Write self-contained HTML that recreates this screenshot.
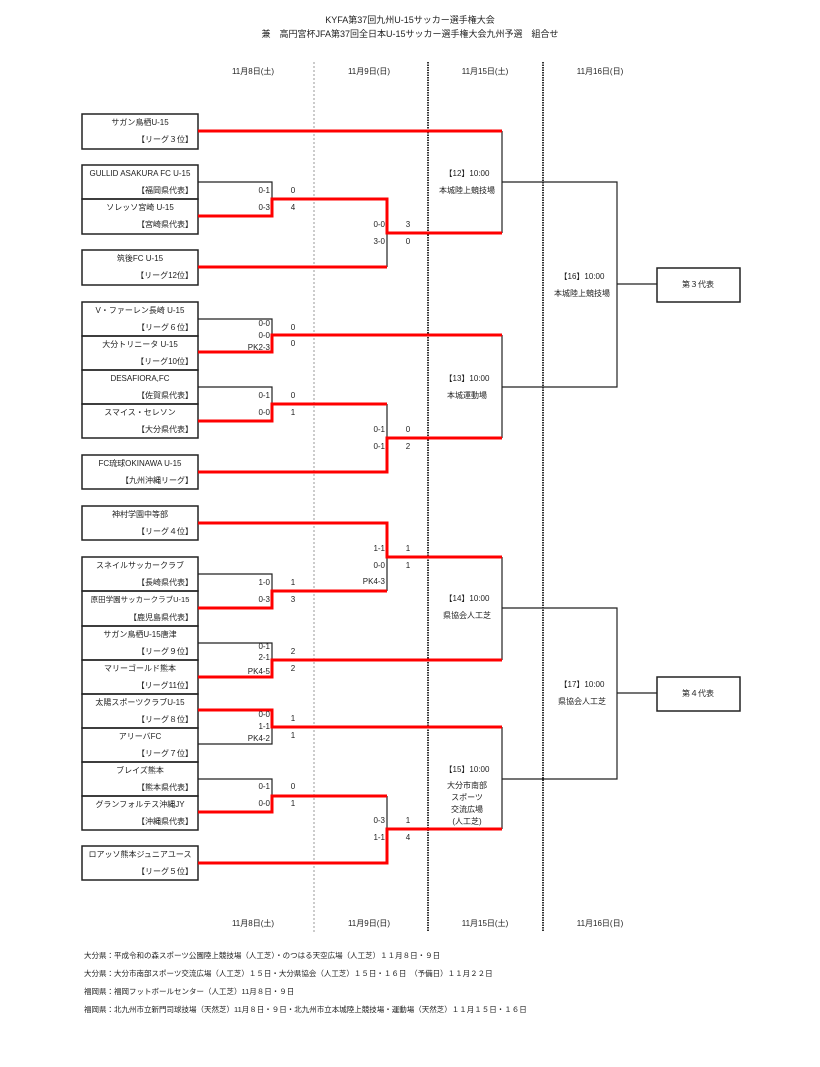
<!DOCTYPE html>
<html><head><meta charset="utf-8"><style>
body{margin:0;background:#fff;}
svg text{font-family:"Liberation Sans","Noto Sans CJK JP",sans-serif;font-size:8px;fill:#222;}
</style></head><body>
<svg width="820" height="1062" viewBox="0 0 820 1062" xmlns="http://www.w3.org/2000/svg">
<text x="410" y="23" text-anchor="middle" style="font-size:9px">KYFA第37回九州U-15サッカー選手権大会</text>
<text x="410" y="37" text-anchor="middle" style="font-size:9px">兼　高円宮杯JFA第37回全日本U-15サッカー選手権大会九州予選　組合せ</text>
<g text-anchor="middle">
<text x="253" y="74">11月8日(土)</text><text x="369" y="74">11月9日(日)</text><text x="485" y="74">11月15日(土)</text><text x="600" y="74">11月16日(日)</text>
<text x="253" y="926">11月8日(土)</text><text x="369" y="926">11月9日(日)</text><text x="485" y="926">11月15日(土)</text><text x="600" y="926">11月16日(日)</text>
</g>
<line x1="314" y1="62" x2="314" y2="932" stroke="#999" stroke-width="1" stroke-dasharray="2,2"/>
<line x1="428" y1="62" x2="428" y2="932" stroke="#333" stroke-width="2" stroke-dasharray="1.5,1"/>
<line x1="543" y1="62" x2="543" y2="932" stroke="#333" stroke-width="2" stroke-dasharray="1.5,1"/>
<g fill="none" stroke="#222" stroke-width="1.5">
<rect x="82" y="114" width="116" height="35"/>
<rect x="82" y="165" width="116" height="34"/><rect x="82" y="199" width="116" height="35"/>
<rect x="82" y="250" width="116" height="35"/>
<rect x="82" y="302" width="116" height="34"/><rect x="82" y="336" width="116" height="34"/>
<rect x="82" y="370" width="116" height="34"/><rect x="82" y="404" width="116" height="34"/>
<rect x="82" y="455" width="116" height="34"/>
<rect x="82" y="506" width="116" height="34"/>
<rect x="82" y="557" width="116" height="34"/><rect x="82" y="591" width="116" height="35"/>
<rect x="82" y="626" width="116" height="34"/><rect x="82" y="660" width="116" height="34"/>
<rect x="82" y="694" width="116" height="34"/><rect x="82" y="728" width="116" height="34"/>
<rect x="82" y="762" width="116" height="34"/><rect x="82" y="796" width="116" height="34"/>
<rect x="82" y="846" width="116" height="34"/>
<rect x="657" y="268" width="83" height="34"/><rect x="657" y="677" width="83" height="34"/>
</g>
<g fill="none" stroke="#222" stroke-width="1.2">
<polyline points="198,182 272,182 272,199"/>
<polyline points="387,234 387,267"/>
<polyline points="198,319 272,319 272,335"/>
<polyline points="198,387 272,387 272,404"/>
<polyline points="387,404 387,438"/>
<polyline points="502,131 502,233"/><polyline points="502,182 617,182 617,387 502,387"/>
<polyline points="502,335 502,438"/><line x1="617" y1="284" x2="657" y2="284"/>
<polyline points="198,574 272,574 272,591"/><polyline points="387,557 387,591"/>
<polyline points="198,643 272,643 272,660"/>
<polyline points="502,557 502,660"/><polyline points="502,608 617,608 617,779 502,779"/>
<polyline points="502,727 502,829"/><line x1="617" y1="693" x2="657" y2="693"/>
<polyline points="272,727 272,744 198,744"/>
<polyline points="198,779 272,779 272,796"/><polyline points="387,796 387,829"/>
</g>
<g fill="none" stroke="#f00" stroke-width="3">
<polyline points="198,131 502,131"/>
<polyline points="198,216 272,216 272,199 387,199 387,233 502,233"/>
<polyline points="198,267 387,267"/>
<polyline points="198,352 272,352 272,335 502,335"/>
<polyline points="198,421 272,421 272,404 387,404"/>
<polyline points="198,472 387,472 387,438 502,438"/>
<polyline points="198,523 387,523 387,557 502,557"/>
<polyline points="198,608 272,608 272,591 387,591"/>
<polyline points="198,677 272,677 272,660 502,660"/>
<polyline points="198,710 272,710 272,727 502,727"/>
<polyline points="198,812 272,812 272,796 387,796"/>
<polyline points="198,863 387,863 387,829 502,829"/>
</g>
<g text-anchor="middle">
<text x="140" y="125">サガン鳥栖U-15</text><text x="140" y="176">GULLID ASAKURA FC U-15</text>
<text x="140" y="210">ソレッソ宮崎 U-15</text><text x="140" y="261">筑後FC U-15</text>
<text x="140" y="313">V・ファーレン長崎 U-15</text><text x="140" y="347">大分トリニータ U-15</text>
<text x="140" y="381">DESAFIORA,FC</text><text x="140" y="415">スマイス・セレソン</text>
<text x="140" y="466">FC琉球OKINAWA U-15</text><text x="140" y="517">神村学園中等部</text>
<text x="140" y="568">スネイルサッカークラブ</text><text x="140" y="602" style="font-size:7.5px">原田学園サッカークラブU-15</text>
<text x="140" y="637">サガン鳥栖U-15唐津</text><text x="140" y="671">マリーゴールド熊本</text>
<text x="140" y="705">太陽スポーツクラブU-15</text><text x="140" y="739">アリーバFC</text>
<text x="140" y="773">ブレイズ熊本</text><text x="140" y="807">グランフォルテス沖縄JY</text>
<text x="140" y="857">ロアッソ熊本ジュニアユース</text>
</g>
<g text-anchor="end">
<text x="193" y="142">【リーグ３位】</text><text x="193" y="193">【福岡県代表】</text>
<text x="193" y="227">【宮崎県代表】</text><text x="193" y="278">【リーグ12位】</text>
<text x="193" y="330">【リーグ６位】</text><text x="193" y="364">【リーグ10位】</text>
<text x="193" y="398">【佐賀県代表】</text><text x="193" y="432">【大分県代表】</text>
<text x="193" y="483">【九州沖縄リーグ】</text><text x="193" y="534">【リーグ４位】</text>
<text x="193" y="585">【長崎県代表】</text><text x="193" y="620">【鹿児島県代表】</text>
<text x="193" y="654">【リーグ９位】</text><text x="193" y="688">【リーグ11位】</text>
<text x="193" y="722">【リーグ８位】</text><text x="193" y="756">【リーグ７位】</text>
<text x="193" y="790">【熊本県代表】</text><text x="193" y="824">【沖縄県代表】</text>
<text x="193" y="874">【リーグ５位】</text>
<text x="270" y="193">0-1</text><text x="270" y="210">0-3</text>
<text x="385" y="227">0-0</text><text x="385" y="244">3-0</text>
<text x="270" y="326">0-0</text><text x="270" y="338">0-0</text><text x="270" y="350">PK2-3</text>
<text x="270" y="398">0-1</text><text x="270" y="415">0-0</text>
<text x="385" y="432">0-1</text><text x="385" y="449">0-1</text>
<text x="385" y="551">1-1</text><text x="385" y="568">0-0</text><text x="385" y="584">PK4-3</text>
<text x="270" y="585">1-0</text><text x="270" y="602">0-3</text>
<text x="270" y="649">0-1</text><text x="270" y="660">2-1</text><text x="270" y="674">PK4-5</text>
<text x="270" y="717">0-0</text><text x="270" y="729">1-1</text><text x="270" y="741">PK4-2</text>
<text x="270" y="789">0-1</text><text x="270" y="806">0-0</text>
<text x="385" y="823">0-3</text><text x="385" y="840">1-1</text>
</g>
<g text-anchor="middle">
<text x="293" y="193">0</text><text x="293" y="210">4</text><text x="408" y="227">3</text><text x="408" y="244">0</text>
<text x="293" y="330">0</text><text x="293" y="346">0</text>
<text x="293" y="398">0</text><text x="293" y="415">1</text><text x="408" y="432">0</text><text x="408" y="449">2</text>
<text x="408" y="551">1</text><text x="408" y="568">1</text>
<text x="293" y="585">1</text><text x="293" y="602">3</text>
<text x="293" y="654">2</text><text x="293" y="671">2</text>
<text x="293" y="721">1</text><text x="293" y="738">1</text>
<text x="293" y="789">0</text><text x="293" y="806">1</text><text x="408" y="823">1</text><text x="408" y="840">4</text>
<text x="467" y="176">【12】10:00</text><text x="467" y="193">本城陸上競技場</text>
<text x="467" y="381">【13】10:00</text><text x="467" y="398">本城運動場</text>
<text x="467" y="601">【14】10:00</text><text x="467" y="618">県協会人工芝</text>
<text x="467" y="772">【15】10:00</text><text x="467" y="788">大分市南部</text><text x="467" y="800">スポーツ</text><text x="467" y="812">交流広場</text><text x="467" y="824">(人工芝)</text>
<text x="582" y="279">【16】10:00</text><text x="582" y="296">本城陸上競技場</text>
<text x="582" y="687">【17】10:00</text><text x="582" y="704">県協会人工芝</text>
<text x="698" y="287">第３代表</text><text x="698" y="696">第４代表</text>
</g>
<g style="font-size:7.5px">
<text x="84" y="958" style="font-size:7.5px">大分県：平成令和の森スポーツ公園陸上競技場（人工芝）・のつはる天空広場（人工芝）１１月８日・９日</text>
<text x="84" y="976" style="font-size:7.5px">大分県：大分市南部スポーツ交流広場（人工芝）１５日・大分県協会（人工芝）１５日・１６日　（予備日）１１月２２日</text>
<text x="84" y="994" style="font-size:7.5px">福岡県：福岡フットボールセンター（人工芝）11月８日・９日</text>
<text x="84" y="1012" style="font-size:7.5px">福岡県：北九州市立新門司球技場（天然芝）11月８日・９日・北九州市立本城陸上競技場・運動場（天然芝）１１月１５日・１６日</text>
</g>
</svg>
</body></html>
